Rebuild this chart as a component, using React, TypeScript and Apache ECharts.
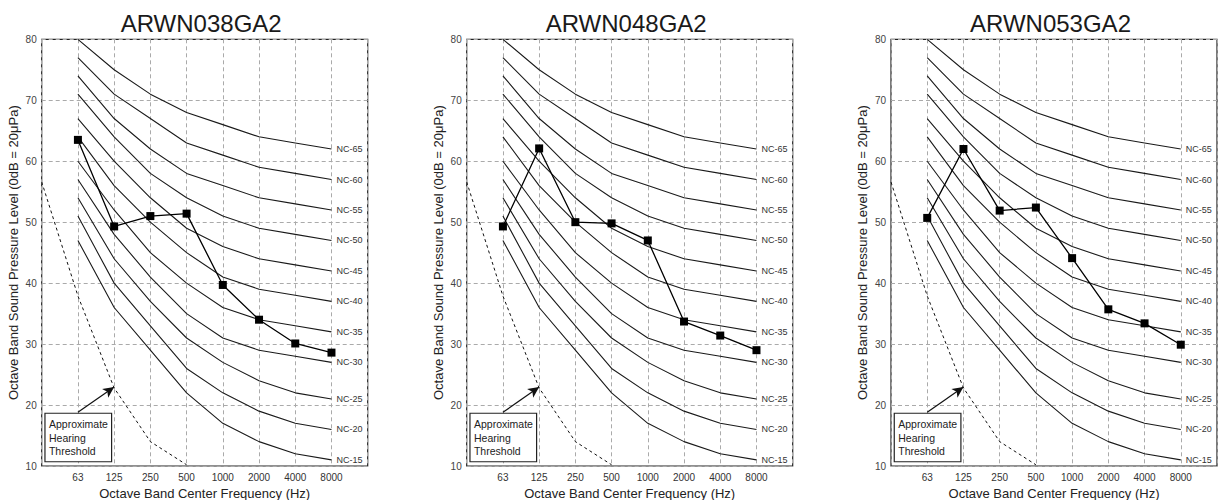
import React, { useEffect, useRef } from 'react';
import * as echarts from 'echarts';

// Octave bands: index 0 (31.5 Hz) and 9 (16000 Hz) are unlabeled edge bands
const bands = ['31.5', '63', '125', '250', '500', '1000', '2000', '4000', '8000', '16000'];
const labeledBands = ['63', '125', '250', '500', '1000', '2000', '4000', '8000'];

const titles = ['ARWN038GA2', 'ARWN048GA2', 'ARWN053GA2'];

const arwn038 = [63.5, 49.3, 51.0, 51.4, 39.7, 34.0, 30.1, 28.6];
const arwn048 = [49.3, 62.1, 50.0, 49.8, 47.0, 33.7, 31.4, 29.0];
const arwn053 = [50.7, 62.0, 51.9, 52.4, 44.1, 35.7, 33.4, 29.9];
const unitSeries = [arwn038, arwn048, arwn053];

const ncNames = ['NC-65', 'NC-60', 'NC-55', 'NC-50', 'NC-45', 'NC-40', 'NC-35', 'NC-30', 'NC-25', 'NC-20', 'NC-15'];
const nc65 = [80, 75, 71, 68, 66, 64, 63, 62];
const nc60 = [77, 71, 67, 63, 61, 59, 58, 57];
const nc55 = [74, 67, 62, 58, 56, 54, 53, 52];
const nc50 = [71, 64, 58, 54, 51, 49, 48, 47];
const nc45 = [67, 60, 54, 49, 46, 44, 43, 42];
const nc40 = [64, 56, 50, 45, 41, 39, 38, 37];
const nc35 = [60, 52, 45, 40, 36, 34, 33, 32];
const nc30 = [57, 48, 41, 35, 31, 29, 28, 27];
const nc25 = [54, 44, 37, 31, 27, 24, 22, 21];
const nc20 = [51, 40, 33, 26, 22, 19, 17, 16];
const nc15 = [47, 36, 29, 22, 17, 14, 12, 11];
const ncCurves = [nc65, nc60, nc55, nc50, nc45, nc40, nc35, nc30, nc25, nc20, nc15];

const thresholdBands = ['31.5', '63', '125', '250', '500'];
const thresholdValues = [56.6, 37.9, 22.8, 14.0, 10.2];

const FONT = '"Liberation Sans", Arial, Helvetica, sans-serif';

const gridLefts = [41.7, 466.7, 891];
const gridWidth = 326;
const gridTop = 39.3;
const gridHeight = 426.7;

const pos = (band: string) => bands.indexOf(band);
const toPairs = (vals: number[], bandList: string[]) => vals.map((v, i) => [pos(bandList[i]), v]);

export default function App() {
  const ref = useRef<HTMLDivElement>(null);

  useEffect(() => {
    if (!ref.current) return;
    const chart = echarts.init(ref.current, undefined, { renderer: 'svg' });

    const grid: any[] = [];
    const xAxis: any[] = [];
    const yAxis: any[] = [];
    const series: any[] = [];
    const title: any[] = [];

    for (let g = 0; g < 3; g++) {
      grid.push({
        left: gridLefts[g],
        top: gridTop,
        width: gridWidth,
        height: gridHeight,
        containLabel: false,
        outerBoundsMode: 'none',
        show: true,
        borderColor: '#222',
        borderWidth: 1.2,
        backgroundColor: 'transparent',
      });
      title.push({
        text: titles[g],
        left: gridLefts[g] + gridWidth / 2 - 8.5,
        textAlign: 'center',
        top: 6,
        textStyle: { fontFamily: FONT, fontSize: 24, fontWeight: 'normal', color: '#1a1a1a' },
      });
      xAxis.push({
        type: 'value',
        gridIndex: g,
        min: 0,
        max: bands.length - 1,
        interval: 1,
        axisLine: { show: false },
        axisTick: { show: false },
        axisLabel: {
          fontFamily: FONT,
          fontSize: 10,
          color: '#333',
          margin: 6,
          formatter: (v: number) => {
            const b = bands[Math.round(v)];
            return labeledBands.includes(b) ? b : '';
          },
        },
        splitLine: { show: true, lineStyle: { color: '#aaa', width: 1, type: [4, 3] } },
        name: 'Octave Band Center Frequency (Hz)',
        nameLocation: 'middle',
        nameGap: 20,
        nameTextStyle: { fontFamily: FONT, fontSize: 13, color: '#222' },
      });
      yAxis.push({
        type: 'value',
        gridIndex: g,
        min: 10,
        max: 80,
        interval: 10,
        axisLine: { show: false },
        axisTick: { show: false },
        axisLabel: {
          fontFamily: FONT,
          fontSize: 10,
          color: '#444',
          margin: 5,
          verticalAlign: 'middle',
        },
        splitLine: { show: true, lineStyle: { color: '#aaa', width: 1, type: [4, 3] } },
        name: 'Octave Band Sound Pressure Level (0dB = 20\u03bcPa)',
        nameLocation: 'middle',
        nameRotate: 90,
        nameGap: 22,
        nameTextStyle: { fontFamily: FONT, fontSize: 13, color: '#222' },
      });

      ncCurves.forEach((curve, k) => {
        series.push({
          type: 'line',
          xAxisIndex: g,
          yAxisIndex: g,
          data: toPairs(curve, labeledBands),
          symbol: 'none',
          silent: true,
          lineStyle: { color: '#1a1a1a', width: 1.1 },
          endLabel: {
            show: true,
            formatter: ncNames[k],
            distance: 5,
            fontFamily: FONT,
            fontSize: 9,
            color: '#333',
          },
          z: 2,
        });
      });

      series.push({
        type: 'line',
        xAxisIndex: g,
        yAxisIndex: g,
        data: toPairs(thresholdValues, thresholdBands),
        symbol: 'none',
        silent: true,
        lineStyle: { color: '#111', width: 1, type: [3, 3] },
        markLine: {
          silent: true,
          symbol: ['none', 'arrow'],
          symbolSize: [8, 11],
          label: { show: false },
          lineStyle: { color: '#111', width: 1.2, type: 'solid' },
          data: [[{ coord: [pos('63'), 18.8] }, { coord: [pos('125'), 22.95] }]],
        },
        z: 2,
      });

      series.push({
        type: 'line',
        xAxisIndex: g,
        yAxisIndex: g,
        data: toPairs(unitSeries[g], labeledBands),
        symbol: 'rect',
        symbolSize: 8,
        silent: true,
        itemStyle: { color: '#000' },
        lineStyle: { color: '#000', width: 1.3 },
        z: 5,
      });
    }

    chart.setOption({
      animation: false,
      backgroundColor: '#fff',
      title,
      grid,
      xAxis,
      yAxis,
      series,
    });

    // Annotation box "Approximate Hearing Threshold" anchored in data coordinates
    const graphic: any[] = [];
    for (let g = 0; g < 3; g++) {
      const tl = chart.convertToPixel({ xAxisIndex: g, yAxisIndex: g }, [0.09, 18.65]) as number[];
      const br = chart.convertToPixel({ xAxisIndex: g, yAxisIndex: g }, [1.93, 10.7]) as number[];
      graphic.push({
        type: 'rect',
        shape: { x: tl[0], y: tl[1], width: br[0] - tl[0], height: br[1] - tl[1] },
        style: { fill: '#fff', stroke: '#222', lineWidth: 1.2 },
        z: 10,
      });
      graphic.push({
        type: 'text',
        x: tl[0] + 4,
        y: tl[1] + 4.5,
        style: {
          text: 'Approximate\nHearing\nThreshold',
          fontFamily: FONT,
          fontSize: 10.5,
          lineHeight: 13.4,
          fill: '#222',
          textVerticalAlign: 'top',
        },
        z: 11,
      });
    }
    chart.setOption({ graphic });

    return () => chart.dispose();
  }, []);

  return (
    <div
      ref={ref}
      style={{ position: 'fixed', left: 0, top: 0, width: 1218, height: 500, background: '#fff' }}
    />
  );
}
